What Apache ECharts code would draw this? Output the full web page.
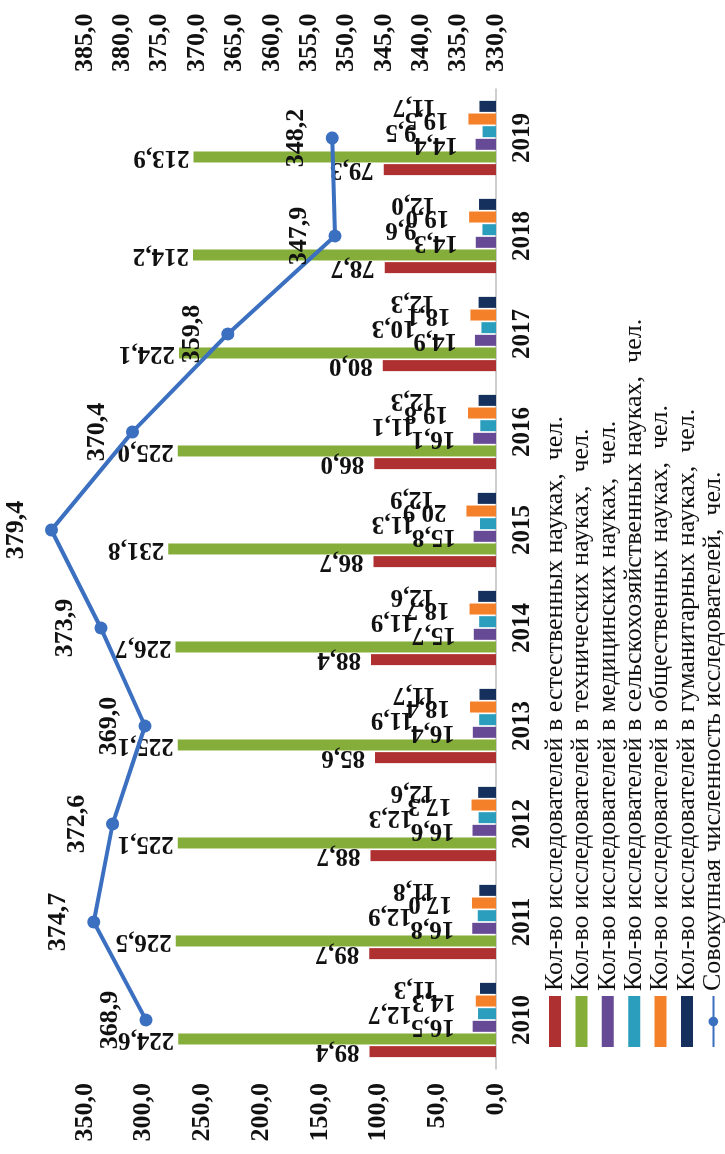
<!DOCTYPE html>
<html>
<head>
<meta charset="utf-8">
<script src="https://cdn.jsdelivr.net/npm/echarts@6/dist/echarts.min.js"></script>
<style>
html,body{margin:0;padding:0;background:#fff;overflow:hidden;width:725px;height:1154px;}
#main{position:absolute;left:0;top:0;width:1154px;height:725px;transform-origin:0 0;transform:translateY(1154px) rotate(-90deg);}
</style>
</head>
<body>
<div id="main"></div>
<script>
const years = ['2010','2011','2012','2013','2014','2015','2016','2017','2018','2019'];
const natural   = [89.4, 89.7, 88.7, 85.6, 88.4, 86.7, 86.0, 80.0, 78.7, 79.3];
const technical = [224.6, 226.5, 225.1, 225.1, 226.7, 231.8, 225.0, 224.1, 214.2, 213.9];
const medical   = [16.5, 16.8, 16.6, 16.4, 15.7, 15.8, 16.1, 14.9, 14.3, 14.4];
const agro      = [12.7, 12.9, 12.3, 11.9, 11.9, 11.3, 11.1, 10.3, 9.6, 9.5];
const social    = [14.3, 17.0, 17.3, 18.4, 18.7, 20.9, 19.8, 18.1, 19.0, 19.5];
const humanit   = [11.3, 11.8, 12.6, 11.7, 12.6, 12.9, 12.3, 12.3, 12.0, 11.7];
const total     = [368.9, 374.7, 372.6, 369.0, 373.9, 379.4, 370.4, 359.8, 347.9, 348.2];

const names = [
  'Кол-во исследователей в естественных науках,  чел.',
  'Кол-во исследователей в технических науках,  чел.',
  'Кол-во исследователей в медицинских науках,  чел.',
  'Кол-во исследователей в сельскохозяйственных науках,  чел.',
  'Кол-во исследователей в общественных науках,  чел.',
  'Кол-во исследователей в гуманитарных науках,  чел.',
  'Совокупная численность исследователей,  чел.'
];
const leftTicks = {min: 0, max: 350, interval: 50};
const rightTicks = {min: 330, max: 385, interval: 5};

const colors = ['#AE3030', '#84AD3A', '#674A95', '#2C9EBD', '#F4812A', '#15305C', '#3B6FC0'];
const SERIF = "'Liberation Serif','DejaVu Serif',serif";
const fmt = v => (typeof v === 'object' ? v.value : v).toFixed(1).replace('.', ',');
const fmtP = p => Number(p.value).toFixed(1).replace('.', ',');

const barSets = [natural, technical, medical, agro, social, humanit];
const labelDist = [10, 4, 18, 66, 20, 44];

const series = barSets.map((d, i) => ({
  name: names[i],
  type: 'bar',
  xAxisIndex: 0, yAxisIndex: 0,
  data: d,
  barWidth: 11,
  barGap: '15%',
  itemStyle: {color: colors[i]},
  label: {
    show: true, position: 'top', rotate: 90, align: 'left', verticalAlign: 'middle',
    distance: labelDist[i], formatter: fmtP,
    fontFamily: SERIF, fontWeight: 'bold', fontSize: 25, color: '#111'
  },
  z: 2
}));
series.push({
  name: names[6],
  type: 'line',
  xAxisIndex: 0, yAxisIndex: 1,
  data: total,
  clip: false,
  symbol: 'circle', symbolSize: 13,
  lineStyle: {width: 4, color: colors[6]},
  itemStyle: {color: colors[6]},
  label: {
    show: true, position: 'top', distance: 16, formatter: fmtP,
    fontFamily: SERIF, fontWeight: 'bold', fontSize: 26, color: '#111'
  },
  z: 5
});

const axisLabelStyle = {fontFamily: SERIF, fontWeight: 'bold', fontSize: 26, color: '#111'};

const chart = echarts.init(document.getElementById('main'));
chart.setOption({
  animation: false,
  backgroundColor: '#fff',
  grid: [
    {left: 85, right: 89, top: 1, bottom: 229},
    {left: 85, right: 89, top: 85, bottom: 229}
  ],
  legend: {
    orient: 'vertical',
    left: 106, top: 542, height: 400,
    padding: 0,
    itemWidth: 51, itemHeight: 12, itemGap: 0.4,
    textStyle: {fontFamily: SERIF, fontSize: 26, lineHeight: 22, color: '#111'},
    data: names.map((n, i) => i < 6 ? {name: n, icon: 'rect'} : {name: n})
  },
  xAxis: [
    {type: 'category', gridIndex: 0, data: years,
     axisLine: {show: true, lineStyle: {color: '#BFBFBF', width: 1.5}},
     axisTick: {show: false},
     axisLabel: Object.assign({margin: 14}, axisLabelStyle, {fontSize: 25})},
    {type: 'category', gridIndex: 1, data: years, show: false}
  ],
  yAxis: [
    {type: 'value', gridIndex: 0, min: leftTicks.min, max: leftTicks.max, show: false, splitLine: {show: false}},
    {type: 'value', gridIndex: 0, min: rightTicks.min, max: rightTicks.max, show: false, position: 'right', splitLine: {show: false}},
    {type: 'value', gridIndex: 1, position: 'left', min: leftTicks.min, max: leftTicks.max, interval: leftTicks.interval,
     axisLine: {show: false}, axisTick: {show: false}, splitLine: {show: false},
     axisLabel: Object.assign({margin: 14, formatter: fmt}, axisLabelStyle)},
    {type: 'value', gridIndex: 1, position: 'right', min: rightTicks.min, max: rightTicks.max, interval: rightTicks.interval,
     axisLine: {show: false}, axisTick: {show: false}, splitLine: {show: false},
     axisLabel: Object.assign({margin: 17, formatter: fmt}, axisLabelStyle)}
  ],
  series: series
});
</script>
</body>
</html>
